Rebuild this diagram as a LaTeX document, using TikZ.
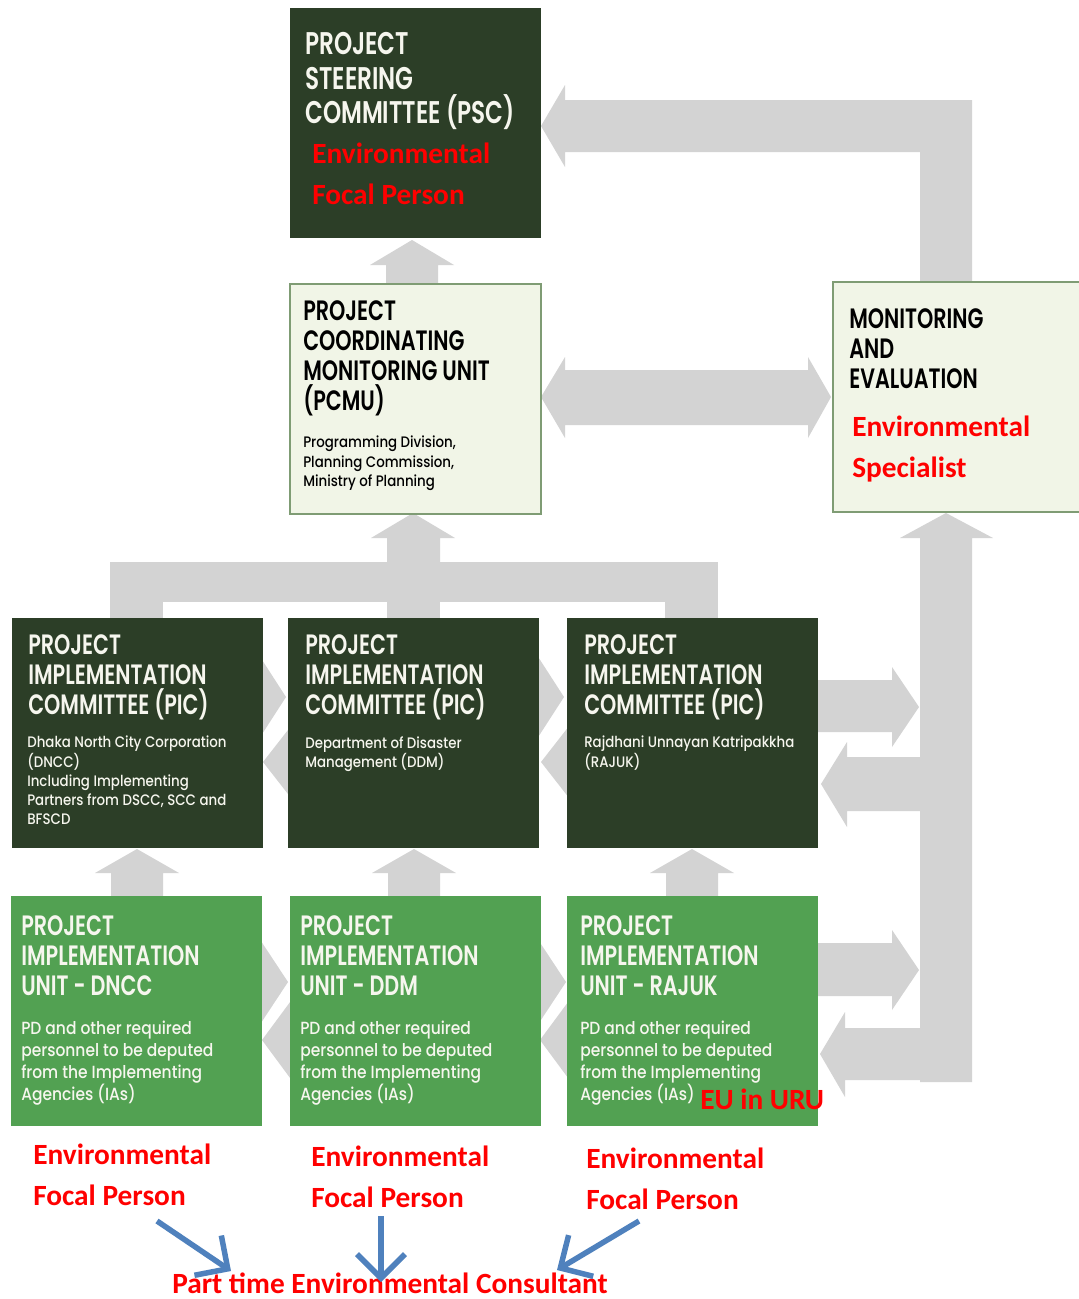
\documentclass[tikz,border=0pt]{standalone}
\usepackage{fontspec}
\usetikzlibrary{arrows.meta, positioning, calc}
\newfontfamily\gothic{Poppins}[FakeStretch=0.74, UprightFont={* SemiBold}]
\newfontfamily\gothicsub{Poppins}[FakeStretch=0.88, UprightFont={* Medium}]
\newfontfamily\calib{Carlito}
\definecolor{picgreen}{RGB}{44,62,39}
\definecolor{piugreen}{RGB}{82,161,82}
\definecolor{pcmufill}{RGB}{241,245,231}
\definecolor{pcmuline}{RGB}{127,156,116}
\definecolor{arrgray}{RGB}{211,211,211}
\definecolor{txtwhite}{RGB}{246,246,238}
\definecolor{efpred}{RGB}{255,0,0}
\definecolor{linkblue}{RGB}{79,129,189}
\newdimen\px \px=0.75pt
\tikzset{
  unitbox/.style={
    rectangle, inner sep=0pt, anchor=north west,
    minimum width=251\px, minimum height=230\px
  },
  darkbox/.style={unitbox, fill=picgreen},
  piubox/.style={unitbox, fill=piugreen},
  lightbox/.style={unitbox, fill=pcmufill, draw=pcmuline, line width=1.5\px},
  boxtitle/.style={
    anchor=north west, inner sep=0pt, align=left,
    font=\gothic\fontsize{21}{22.5}\selectfont
  },
  bigtitle/.style={boxtitle, font=\gothic\fontsize{23.5}{26}\selectfont},
  boxsub/.style={
    anchor=north west, inner sep=0pt, align=left,
    font=\gothicsub\fontsize{11.4}{14.3}\selectfont
  },
  piusub/.style={boxsub, font=\gothicsub\fontsize{13.2}{16.5}\selectfont},
  redtext/.style={
    anchor=north west, inner sep=0pt, align=left, text=efpred,
    font=\calib\bfseries\fontsize{22}{30.8}\selectfont
  },
  blockarr/.style={fill=arrgray},
  linkarr/.style={draw=linkblue, line width=5.5\px,
    -{Straight Barb[length=18pt, width=36pt]}},
}

\begin{document}
\begin{tikzpicture}[x=0.75pt, y=-0.75pt]

  \useasboundingbox[fill=white] (0,0) rectangle (1078,1299);

  % Gray block arrows
  \fill[blockarr] (412,240) -- (454,265) -- (438,265) -- (438,285) -- (386,285)
    -- (386,265) -- (370,265) -- cycle;
  \fill[blockarr] (541,126) -- (565,85) -- (565,100) -- (972,100) -- (972,283)
    -- (920,283) -- (920,152) -- (565,152) -- (565,167) -- cycle;
  \fill[blockarr] (541,397) -- (565,357) -- (565,370) -- (808,370) -- (808,357)
    -- (831,397) -- (808,438) -- (808,425) -- (565,425) -- (565,438) -- cycle;
  \fill[blockarr] (413,513) -- (455,538) -- (440,538) -- (440,563) -- (387,563)
    -- (387,538) -- (371,538) -- cycle;
  \fill[blockarr] (110,562) rectangle (718,602);
  \fill[blockarr] (110,600) rectangle (163,620);
  \fill[blockarr] (387,600) rectangle (440,620);
  \fill[blockarr] (665,600) rectangle (718,620);
  \foreach \cx in {137,414,692}
    \fill[blockarr] (\cx,849) -- ++(42,24) -- ++(-16,0) -- ++(0,25) -- ++(-52,0)
      -- ++(0,-25) -- ++(-16,0) -- cycle;
  \fill[blockarr] (946,513) -- (993,538) -- (972,538) -- (972,1082) -- (920,1082)
    -- (920,538) -- (900,538) -- cycle;
  \fill[blockarr] (817,680) -- (892,680) -- (892,667) -- (919,707) -- (892,747)
    -- (892,732) -- (817,732) -- cycle;
  \fill[blockarr] (821,784) -- (847,742) -- (847,757) -- (921,757) -- (921,811)
    -- (847,811) -- (847,827) -- cycle;
  \fill[blockarr] (817,943) -- (892,943) -- (892,930) -- (919,970) -- (892,1010)
    -- (892,996) -- (817,996) -- cycle;
  \fill[blockarr] (820,1054) -- (845,1012) -- (845,1028) -- (921,1028) -- (921,1080)
    -- (845,1080) -- (845,1097) -- cycle;
  \foreach \dx in {0,278} {
    \fill[blockarr] (255+\dx,649) -- (286+\dx,697) -- (255+\dx,745) -- cycle;
    \fill[blockarr] (295+\dx,721) -- (263+\dx,762) -- (295+\dx,803) -- cycle;
    \fill[blockarr] (255+\dx,932) -- (288+\dx,982) -- (255+\dx,1032) -- cycle;
    \fill[blockarr] (296+\dx,994) -- (262+\dx,1040) -- (296+\dx,1086) -- cycle;
  }

  % Boxes
  \node[darkbox]  (psc)  at (290,8)   {};
  \node[lightbox] (pcmu) at (289,283) {};
  \node[lightbox, minimum width=260\px] (me) at (832,281) {};
  \node[darkbox]  (pic1) at (12,618)  {};
  \node[darkbox]  (pic2) at (288,618) {};
  \node[darkbox]  (pic3) at (567,618) {};
  \node[piubox]   (piu1) at (11,896)  {};
  \node[piubox]   (piu2) at (290,896) {};
  \node[piubox]   (piu3) at (567,896) {};

  % PSC
  \node[bigtitle, text=txtwhite] (psc-t) at ([shift={(15,24)}]psc.north west)
    {PROJECT\\STEERING\\COMMITTEE (PSC)};
  \node[redtext] (psc-r) at ([shift={(22,135)}]psc.north west)
    {Environmental\\Focal Person};

  % PCMU
  \node[boxtitle] (pcmu-t) at ([shift={(14,17)}]pcmu.north west)
    {PROJECT\\COORDINATING\\MONITORING UNIT\\(PCMU)};
  \node[boxsub] (pcmu-s) at ([shift={(14,153)}]pcmu.north west)
    {Programming Division,\\Planning Commission,\\Ministry of Planning};

  % M&E
  \node[boxtitle] (me-t) at ([shift={(17,27)}]me.north west)
    {MONITORING\\AND\\EVALUATION};
  \node[redtext] (me-r) at ([shift={(20,135)}]me.north west)
    {Environmental\\Specialist};

  % PIC row
  \node[boxtitle, text=txtwhite] (pic1-t) at ([shift={(16,16)}]pic1.north west)
    {PROJECT\\IMPLEMENTATION\\COMMITTEE (PIC)};
  \node[boxsub, text=txtwhite] (pic1-s) at ([shift={(15,118)}]pic1.north west)
    {Dhaka North City Corporation\\(DNCC)\\Including Implementing\\Partners from DSCC, SCC and\\BFSCD};
  \node[boxtitle, text=txtwhite] (pic2-t) at ([shift={(17,16)}]pic2.north west)
    {PROJECT\\IMPLEMENTATION\\COMMITTEE (PIC)};
  \node[boxsub, text=txtwhite] (pic2-s) at ([shift={(17,118)}]pic2.north west)
    {Department of Disaster\\Management (DDM)};
  \node[boxtitle, text=txtwhite] (pic3-t) at ([shift={(17,16)}]pic3.north west)
    {PROJECT\\IMPLEMENTATION\\COMMITTEE (PIC)};
  \node[boxsub, text=txtwhite] (pic3-s) at ([shift={(17,118)}]pic3.north west)
    {Rajdhani Unnayan Katripakkha\\(RAJUK)};

  % PIU row
  \node[boxtitle, text=txtwhite] (piu1-t) at ([shift={(10,19)}]piu1.north west)
    {PROJECT\\IMPLEMENTATION\\UNIT - DNCC};
  \node[piusub, text=txtwhite] (piu1-s) at ([shift={(10,125)}]piu1.north west)
    {PD and other required\\personnel to be deputed\\from the Implementing\\Agencies (IAs)};
  \node[boxtitle, text=txtwhite] (piu2-t) at ([shift={(10,19)}]piu2.north west)
    {PROJECT\\IMPLEMENTATION\\UNIT - DDM};
  \node[piusub, text=txtwhite] (piu2-s) at ([shift={(10,125)}]piu2.north west)
    {PD and other required\\personnel to be deputed\\from the Implementing\\Agencies (IAs)};
  \node[boxtitle, text=txtwhite] (piu3-t) at ([shift={(13,19)}]piu3.north west)
    {PROJECT\\IMPLEMENTATION\\UNIT - RAJUK};
  \node[piusub, text=txtwhite] (piu3-s) at ([shift={(13,125)}]piu3.north west)
    {PD and other required\\personnel to be deputed\\from the Implementing\\Agencies (IAs)};
  \node[redtext] (euuru) at ([shift={(133,193)}]piu3.north west) {EU in URU};

  % Focal persons
  \node[redtext] (efp1) at ([shift={(22,17)}]piu1.south west) {Environmental\\Focal Person};
  \node[redtext] (efp2) at ([shift={(21,19)}]piu2.south west) {Environmental\\Focal Person};
  \node[redtext] (efp3) at ([shift={(19,21)}]piu3.south west) {Environmental\\Focal Person};
  \node[redtext] (ptec) at (172,1273) {Part time Environmental Consultant};

  % Blue arrows
  \coordinate (l1a) at (157,1221);
  \coordinate (l1b) at (231,1271);
  \coordinate (l2a) at (381,1216);
  \coordinate (l2b) at (381,1282);
  \coordinate (l3a) at (639,1221);
  \coordinate (l3b) at (557,1270);
  \draw[linkarr] (l1a) -- (l1b);
  \draw[linkarr] (l2a) -- (l2b);
  \draw[linkarr] (l3a) -- (l3b);

\end{tikzpicture}
\end{document}
